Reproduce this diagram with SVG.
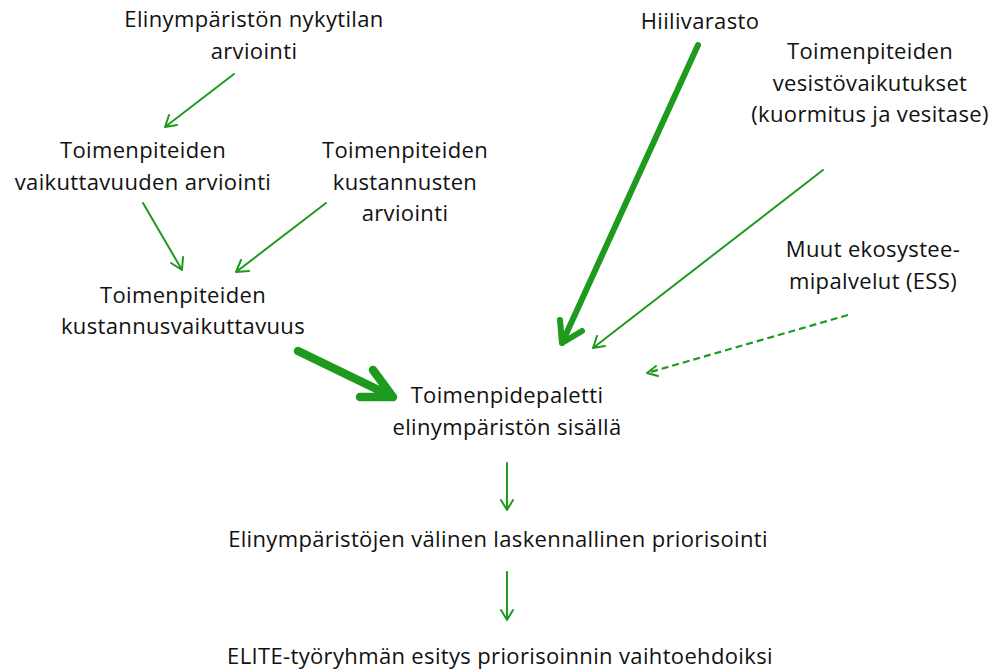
<svg xmlns="http://www.w3.org/2000/svg" width="998" height="671" viewBox="0 0 998 671">
<style>
text{font-family:"Open Sans","Liberation Sans",Arial,sans-serif;font-size:22px;letter-spacing:0.35px;fill:#111;text-anchor:middle}
.c{fill:none;stroke:#1e9a1e;stroke-linecap:round;stroke-linejoin:round}
.t{stroke-width:2}
.k{stroke-width:8.5}
.m{stroke-width:6}
.d{stroke-width:2.2;stroke-dasharray:7,4;stroke-linecap:butt}
</style>
<rect width="998" height="671" fill="#fff"/>
<g id="n1"><text x="254" y="27">Elinympäristön nykytilan</text><text x="254" y="59">arviointi</text></g>
<g id="n2"><text x="143" y="158">Toimenpiteiden</text><text x="143" y="190">vaikuttavuuden arviointi</text></g>
<g id="n3"><text x="405" y="158">Toimenpiteiden</text><text x="405" y="190">kustannusten</text><text x="405" y="221">arviointi</text></g>
<g id="n4"><text x="183" y="303">Toimenpiteiden</text><text x="183" y="334">kustannusvaikuttavuus</text></g>
<g id="n5"><text x="507" y="403">Toimenpidepaletti</text><text x="507" y="435">elinympäristön sisällä</text></g>
<g id="n6"><text x="700" y="29">Hiilivarasto</text></g>
<g id="n7"><text x="870" y="59">Toimenpiteiden</text><text x="870" y="91">vesistövaikutukset</text><text x="870" y="122">(kuormitus ja vesitase)</text></g>
<g id="n8"><text x="873" y="257">Muut ekosystee-</text><text x="873" y="289">mipalvelut (ESS)</text></g>
<g id="n9"><text x="498" y="547">Elinympäristöjen välinen laskennallinen priorisointi</text></g>
<g id="n10"><text x="500" y="664">ELITE-työryhmän esitys priorisoinnin vaihtoehdoiksi</text></g>
<g id="connectors">
<path class="c t" d="M234,74 L165,127 M165,127 l4,-12 M165,127 l12,-2"/>
<path class="c t" d="M143,203 L182,270 M182,270 l-11,-7 M182,270 l1,-13"/>
<path class="c t" d="M326,203 L236,272 M236,272 l5,-12 M236,272 l13,-1"/>
<path class="c k" d="M298,351 L393,397 M393,397 l-20,-27 M393,397 l-33,0"/>
<path class="c m" d="M698,45 L562,343 M562,343 l-2,-23 M562,343 l20,-12"/>
<path class="c t" d="M823,170 L593,348 M593,348 l4,-12 M593,348 l12,-2"/>
<path class="c d" d="M848,315 L647,373"/>
<path class="c t" d="M647,373 l9,-7 M647,373 l11,3"/>
<path class="c t" d="M507,463 L507,510 M507,510 l-6,-10 M507,510 l6,-10"/>
<path class="c t" d="M507,572 L507,620 M507,620 l-6,-10 M507,620 l6,-10"/>
</g>
</svg>
